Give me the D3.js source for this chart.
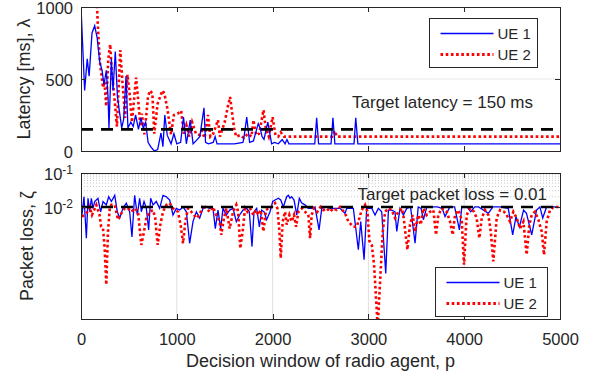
<!DOCTYPE html>
<html lang="en">
<head>
<meta charset="UTF-8">
<title>Latency and packet loss per UE</title>
<script src="https://cdn.jsdelivr.net/npm/d3@7"></script>
<style>
  body { margin: 0; background: #fff; }
  svg text { font-family: "Liberation Sans", Arial, sans-serif; fill: #262626; }
  .axis path, .axis line { stroke: #262626; shape-rendering: crispEdges; }
</style>
</head>
<body>
<svg id="chart" width="590" height="384"></svg>
<script>
// ---- data ----
const xTicks = [0, 1000, 2000, 3000, 4000, 5000];
const latTicks = [0, 500, 1000];
const plTicks = [0.01, 0.1];
const plMinor = [0.02, 0.03, 0.04, 0.05, 0.06, 0.07, 0.08, 0.09];
const targetLatency = 150;
const targetLoss = 0.01;

// latency, UE 1
const latX1 = [0, 38, 65, 85, 115, 143, 170, 195, 220, 240, 264, 282, 292, 317, 334, 358, 380, 400, 425, 445,
  470, 490, 520, 545, 570, 600, 625, 650, 675, 700, 727, 765, 800, 835, 855, 875, 900, 920, 940, 970,
  1000, 1040, 1070, 1100, 1140, 1170, 1200, 1240, 1284, 1300, 1330, 1380, 1400, 1420, 1520, 1600, 1690, 1700, 1730, 1760,
  1800, 1850, 1870, 1890, 1910, 1950, 1990, 2020, 2060, 2100, 2130, 2150, 2170, 2440, 2460, 2480, 2610, 2630, 2650, 2850,
  2868, 2890, 5000];
const latUE1 = [1000, 420, 640, 520, 820, 870, 780, 620, 560, 460, 560, 380, 160, 640, 420, 690, 380, 280, 160, 220,
  520, 160, 200, 170, 250, 150, 230, 160, 200, 60, 30, 0, 10, 125, 30, 250, 110, 80, 50, 120,
  50, 60, 235, 50, 215, 50, 70, 100, 300, 60, 50, 60, 100, 50, 50, 50, 60, 90, 235, 60,
  70, 190, 160, 100, 80, 200, 50, 60, 50, 80, 50, 80, 50, 50, 230, 50, 50, 230, 50, 50,
  230, 50, 50];

// latency, UE 2
const latX2 = [0, 160, 167, 185, 200, 230, 245, 263, 285, 305, 320, 345, 375, 410, 430, 450, 460, 485, 510, 532,
  575, 600, 620, 635, 662, 700, 720, 745, 765, 800, 850, 870, 900, 940, 970, 1010, 1045, 1075, 1100, 1130,
  1160, 1200, 1240, 1260, 1290, 1325, 1350, 1380, 1430, 1450, 1500, 1530, 1556, 1580, 1600, 1620, 1660, 1700, 1740, 1780,
  1800, 1830, 1860, 1905, 1930, 1960, 2000, 2030, 2060, 2085, 2120, 2620, 2650, 2670, 5000];
const latUE2 = [1300, 1300, 1000, 750, 600, 440, 480, 310, 640, 740, 560, 400, 170, 700, 500, 330, 230, 530, 380, 200,
  510, 330, 170, 260, 115, 380, 420, 400, 120, 330, 420, 400, 300, 115, 250, 260, 280, 120, 180, 100,
  200, 120, 110, 140, 90, 250, 100, 120, 215, 100, 200, 300, 375, 250, 150, 100, 110, 90, 120, 100,
  215, 110, 120, 285, 150, 100, 235, 110, 100, 130, 100, 100, 140, 100, 100];

// packet loss, UE 1
const plX1 = [10, 31, 56, 73, 91, 108, 125, 143, 177, 205, 230, 264, 289, 317, 352, 379, 404, 438, 473, 508,
  532, 560, 588, 612, 630, 658, 682, 706, 727, 752, 786, 821, 856, 891, 926, 960, 995, 1030, 1065, 1100,
  1134, 1169, 1204, 1239, 1274, 1308, 1343, 1378, 1402, 1430, 1458, 1482, 1517, 1552, 1587, 1621, 1656, 1691, 1730, 1757,
  1785, 1806, 1834, 1862, 1886, 1911, 1938, 1973, 2001, 2025, 2060, 2085, 2112, 2147, 2165, 2182, 2199, 2224, 2252, 2279,
  2304, 2339, 2373, 2408, 2443, 2485, 2513, 2547, 2600, 2652, 2704, 2756, 2774, 2843, 2895, 2920, 2955, 2982, 3035, 3069,
  3104, 3139, 3181, 3209, 3243, 3278, 3296, 3330, 3365, 3400, 3440, 3487, 3520, 3550, 3574, 3610, 3680, 3720, 3770, 3800,
  3850, 3900, 3950, 3975, 4030, 4068, 4110, 4150, 4252, 4300, 4370, 4460, 4506, 4541, 4576, 4620, 4650, 4705, 4755, 4790,
  4820, 4860, 4960];
const plUE1 = [5.8e-3, 2.0e-2, 1.2e-3, 1.8e-2, 7.2e-3, 1.8e-2, 9.1e-3, 1.45e-2, 1.8e-2, 7.2e-3, 1.45e-2, 1.15e-2, 2.0e-2, 1.45e-2, 2.2e-2, 7.2e-3, 4.7e-3, 9.1e-3, 1.3e-2, 7.2e-3,
  1.3e-3, 2.2e-2, 5.8e-3, 1.8e-2, 7.2e-3, 1.45e-2, 9.1e-3, 2.1e-3, 1.8e-2, 1.15e-2, 1.45e-2, 9.1e-3, 2.2e-2, 2.0e-2, 1.6e-2, 5.8e-3, 9.1e-3, 8.1e-3, 1.0e-2, 7.2e-3,
  8.5e-4, 3.7e-3, 7.2e-3, 4.7e-3, 9.1e-3, 1.0e-2, 9.1e-3, 9.1e-3, 2.3e-3, 8.1e-3, 2.3e-3, 9.1e-3, 5.8e-3, 8.1e-3, 9.1e-3, 3.7e-3, 5.8e-3, 8.1e-3, 9.1e-3, 7.2e-3,
  6.8e-4, 7.2e-3, 9.1e-3, 2.6e-3, 8.1e-3, 7.2e-3, 4.2e-3, 7.2e-3, 1.45e-2, 1.6e-2, 1.8e-2, 1.6e-2, 1.0e-2, 2.0e-2, 2.2e-2, 1.8e-2, 2.0e-2, 1.6e-2, 5.8e-3, 1.8e-2,
  1.3e-2, 1.15e-2, 9.1e-3, 9.1e-3, 1.0e-2, 2.1e-3, 9.1e-3, 1.0e-2, 9.1e-3, 9.1e-3, 9.1e-3, 6.5e-3, 9.1e-3, 9.1e-3, 5.5e-4, 3.7e-3, 2.8e-4, 9.1e-3, 9.1e-3, 5.8e-3,
  9.1e-3, 7.2e-3, 1.1e-4, 8.1e-3, 8.1e-3, 7.2e-3, 1.9e-3, 9.1e-3, 5.8e-3, 9.1e-3, 1.0e-2, 8.5e-4, 1.0e-2, 9.1e-3, 4.2e-3, 1.0e-2, 1.0e-2, 1.0e-2, 9.1e-3, 5.2e-3,
  1.0e-2, 1.0e-2, 2.1e-3, 1.0e-2, 1.0e-2, 7.2e-3, 1.0e-2, 1.0e-2, 6.5e-3, 1.0e-2, 1.0e-2, 9.1e-3, 1.5e-3, 5.2e-3, 2.6e-3, 8.1e-3, 6.5e-3, 1.5e-3, 8.1e-3, 1.0e-2,
  4.7e-3, 1.0e-2, 1.0e-2];

// packet loss, UE 2
const plX2 = [10, 38, 66, 91, 115, 160, 194, 210, 230, 247, 264, 282, 300, 317, 352, 386, 421, 456, 490, 525,
  560, 595, 630, 658, 682, 717, 752, 775, 800, 828, 856, 891, 926, 960, 1012, 1040, 1065, 1089, 1117, 1152,
  1204, 1239, 1274, 1308, 1343, 1378, 1412, 1447, 1464, 1492, 1517, 1552, 1587, 1621, 1640, 1663, 1691, 1712, 1737, 1764,
  1799, 1827, 1851, 1876, 1904, 1931, 1956, 1991, 2025, 2050, 2071, 2085, 2105, 2130, 2147, 2175, 2199, 2224, 2245, 2269,
  2304, 2339, 2373, 2391, 2408, 2433, 2467, 2500, 2530, 2565, 2600, 2634, 2669, 2704, 2756, 2791, 2843, 2878, 2906, 2930,
  2965, 2990, 3010, 3035, 3059, 3080, 3097, 3122, 3150, 3174, 3209, 3243, 3278, 3313, 3348, 3365, 3407, 3434, 3462, 3487,
  3521, 3546, 3574, 3608, 3643, 3678, 3706, 3730, 3765, 3817, 3852, 3880, 3904, 3939, 3974, 3998, 4026, 4061, 4103, 4130,
  4158, 4183, 4217, 4252, 4277, 4304, 4339, 4374, 4416, 4444, 4478, 4513, 4548, 4583, 4618, 4652, 4680, 4705, 4739, 4774,
  4809, 4833, 4861, 4896, 4931, 4966, 5000];
const plUE2 = [5.2e-3, 5.8e-3, 7.2e-3, 1.0e-2, 5.8e-3, 1.15e-2, 5.8e-3, 2.6e-3, 2.3e-3, 6.0e-4, 5.1e-5, 1.9e-3, 9.1e-3, 1.15e-2, 1.15e-2, 4.2e-3, 6.5e-3, 9.1e-3, 9.1e-3, 7.2e-3,
  9.1e-3, 7.2e-3, 7.6e-4, 1.9e-3, 4.7e-3, 7.2e-3, 8.1e-3, 4.7e-3, 7.6e-4, 3.0e-3, 7.2e-3, 1.15e-2, 1.3e-2, 9.1e-3, 7.2e-3, 3.0e-3, 8.5e-4, 3.7e-3, 9.1e-3, 7.2e-3,
  4.7e-3, 5.8e-3, 1.15e-2, 9.1e-3, 7.2e-3, 1.0e-2, 5.8e-3, 3.7e-3, 1.5e-3, 4.7e-3, 9.1e-3, 2.3e-3, 7.2e-3, 1.15e-2, 7.2e-3, 6.0e-4, 2.3e-3, 9.1e-3, 7.2e-3, 9.1e-3,
  5.8e-3, 8.1e-3, 5.8e-3, 8.1e-3, 1.9e-3, 8.1e-3, 9.1e-3, 1.0e-2, 1.3e-2, 9.1e-3, 1.9e-3, 3.1e-4, 3.7e-3, 7.2e-3, 3.0e-3, 5.8e-3, 3.7e-3, 5.8e-3, 2.6e-3, 7.2e-3,
  9.1e-3, 7.2e-3, 5.8e-3, 1.2e-3, 5.8e-3, 9.1e-3, 7.2e-3, 1.0e-2, 8.1e-3, 9.1e-3, 7.2e-3, 9.1e-3, 8.1e-3, 1.0e-2, 6.5e-3, 3.7e-3, 2.6e-3, 2.6e-3, 4.7e-3, 8.1e-3,
  1.15e-2, 7.2e-3, 1.0e-3, 7.6e-4, 2.0e-4, 2.0e-5, 3.0e-6, 6.3e-5, 1.9e-3, 7.2e-3, 9.1e-3, 8.1e-3, 4.7e-3, 7.2e-3, 9.1e-3, 5.8e-3, 5.5e-4, 3.0e-3, 5.8e-3, 1.9e-3,
  5.8e-3, 3.0e-3, 9.1e-3, 5.8e-3, 7.2e-3, 8.1e-3, 1.5e-3, 5.8e-3, 9.1e-3, 7.2e-3, 3.7e-3, 1.5e-3, 5.8e-3, 8.1e-3, 4.2e-3, 2.0e-4, 5.8e-3, 9.1e-3, 7.2e-3, 4.7e-3,
  1.2e-3, 4.7e-3, 8.1e-3, 5.8e-3, 1.9e-3, 2.5e-4, 4.7e-3, 8.1e-3, 7.2e-3, 5.8e-3, 3.7e-3, 7.2e-3, 4.7e-3, 2.3e-3, 3.7e-3, 3.9e-4, 3.0e-3, 5.8e-3, 7.2e-3, 4.2e-3,
  1.9e-3, 3.9e-4, 3.7e-3, 8.1e-3, 1.0e-2, 1.0e-2, 1.0e-2];

const series = [
  { name: "UE 1", color: "#0000ff", width: 1.3, dash: null },
  { name: "UE 2", color: "#ff0000", width: 2.6, dash: "2.6,2.6" }
];

// ---- layout ----
const left = 81, right = 560;
const top1 = 7, bot1 = 151;
const top2 = 173, bot2 = 319;

const svg = d3.select("#chart");

const x = d3.scaleLinear().domain([0, 5000]).range([left, right]);
const yLat = d3.scaleLinear().domain([0, 1000]).range([bot1, top1]);
const yPL = d3.scaleLog().domain([5e-6, 0.1]).range([bot2, top2]);

const defs = svg.append("defs");
defs.append("clipPath").attr("id", "clip1")
  .append("rect").attr("x", left).attr("y", top1).attr("width", right - left).attr("height", bot1 - top1);
defs.append("clipPath").attr("id", "clip2")
  .append("rect").attr("x", left).attr("y", top2).attr("width", right - left).attr("height", bot2 - top2);

// ---- grids ----
svg.append("g").selectAll("line")
  .data(latTicks.slice(1, -1)).join("line")
  .attr("x1", left).attr("x2", right)
  .attr("y1", d => yLat(d)).attr("y2", d => yLat(d))
  .attr("stroke", "#e6e6e6").attr("stroke-width", 1);

svg.append("g").selectAll("line")
  .data(xTicks.slice(1, -1)).join("line")
  .attr("x1", d => x(d)).attr("x2", d => x(d))
  .attr("y1", top2).attr("y2", bot2)
  .attr("stroke", "#e0e0e0").attr("stroke-width", 1);

svg.append("g").selectAll("line")
  .data(plMinor).join("line")
  .attr("x1", left).attr("x2", right)
  .attr("y1", d => yPL(d)).attr("y2", d => yPL(d))
  .attr("stroke", "#bdbdbd").attr("stroke-width", 0.8)
  .attr("stroke-dasharray", "1,2");

// ---- data lines ----
const line1 = d3.line().x(d => x(d[0])).y(d => yLat(d[1]));
const line2 = d3.line().x(d => x(d[0])).y(d => yPL(d[1]));

const latData = [d3.zip(latX1, latUE1), d3.zip(latX2, latUE2)];
const plData = [d3.zip(plX1, plUE1), d3.zip(plX2, plUE2)];

const g1 = svg.append("g").attr("clip-path", "url(#clip1)");
const g2 = svg.append("g").attr("clip-path", "url(#clip2)");

[1, 0].forEach(i => {
  const s = series[i];
  g1.append("path").datum(latData[i])
    .attr("d", line1).attr("fill", "none")
    .attr("stroke", s.color).attr("stroke-width", s.width)
    .attr("stroke-dasharray", s.dash);
});
series.forEach((s, i) => {
  g2.append("path").datum(plData[i])
    .attr("d", line2).attr("fill", "none")
    .attr("stroke", s.color).attr("stroke-width", s.width)
    .attr("stroke-dasharray", s.dash);
});

// target lines
g1.append("line")
  .attr("x1", left).attr("x2", right)
  .attr("y1", yLat(targetLatency)).attr("y2", yLat(targetLatency))
  .attr("stroke", "#000").attr("stroke-width", 2.6).attr("stroke-dasharray", "12,8");
g2.append("line")
  .attr("x1", left).attr("x2", right)
  .attr("y1", yPL(targetLoss)).attr("y2", yPL(targetLoss))
  .attr("stroke", "#000").attr("stroke-width", 2.6).attr("stroke-dasharray", "12,8");

// ---- axes ----
function frame(yScale, yTop, yBot, yVals, yFmt, showX) {
  svg.append("g").attr("class", "axis")
    .attr("transform", `translate(0,${yBot})`)
    .call(d3.axisBottom(x).tickValues(xTicks).tickSize(-5).tickSizeOuter(0).tickPadding(10)
      .tickFormat(showX ? d3.format("d") : ""))
    .call(g => g.selectAll("text").attr("font-size", 16.5).attr("dy", "0.95em"));
  svg.append("g").attr("class", "axis")
    .attr("transform", `translate(0,${yTop})`)
    .call(d3.axisTop(x).tickValues(xTicks).tickSize(-5).tickSizeOuter(0).tickFormat(""));
  const ly = svg.append("g").attr("class", "axis")
    .attr("transform", `translate(${left},0)`)
    .call(d3.axisLeft(yScale).tickValues(yVals).tickSize(-5).tickSizeOuter(0).tickPadding(8).tickFormat(""));
  ly.selectAll(".tick").append("text")
    .attr("x", -8).attr("dy", "0.42em")
    .attr("text-anchor", "end").attr("font-size", 16.5)
    .each(function (d) { yFmt(d3.select(this), d); });
  svg.append("g").attr("class", "axis")
    .attr("transform", `translate(${right},0)`)
    .call(d3.axisRight(yScale).tickValues(yVals).tickSize(-5).tickSizeOuter(0).tickFormat(""));
}

frame(yLat, top1, bot1, latTicks, (t, d) => t.text(d), false);
frame(yPL, top2, bot2, plTicks, (t, d) => {
  t.text("10");
  t.append("tspan").attr("dy", "-0.5em").attr("font-size", 12).text(Math.round(Math.log10(d)));
}, true);

// ---- axis labels ----
svg.append("text")
  .attr("transform", `translate(30,${(top1 + bot1) / 2}) rotate(-90)`)
  .attr("text-anchor", "middle").attr("font-size", 18)
  .text("Latency [ms], λ");
svg.append("text")
  .attr("transform", `translate(33,${(top2 + bot2) / 2}) rotate(-90)`)
  .attr("text-anchor", "middle").attr("font-size", 18)
  .text("Packet loss, ζ");
svg.append("text")
  .attr("x", (left + right) / 2).attr("y", 367)
  .attr("text-anchor", "middle").attr("font-size", 18)
  .text("Decision window of radio agent, p");

// ---- annotations ----
svg.append("text")
  .attr("x", 533).attr("y", 108)
  .attr("text-anchor", "end").attr("font-size", 17)
  .text(`Target latency = ${targetLatency} ms`);
svg.append("text")
  .attr("x", 547).attr("y", 200)
  .attr("text-anchor", "end").attr("font-size", 17)
  .text(`Target packet loss = ${targetLoss}`);

// ---- legends ----
function legend(x0, y0, w, h) {
  const g = svg.append("g").attr("transform", `translate(${x0},${y0})`);
  g.append("rect").attr("width", w).attr("height", h)
    .attr("fill", "#fff").attr("stroke", "#262626").attr("stroke-width", 1);
  series.forEach((s, i) => {
    const yy = 15 + i * 21;
    g.append("line").attr("x1", 11).attr("x2", 64).attr("y1", yy).attr("y2", yy)
      .attr("stroke", s.color).attr("stroke-width", s.width + 0.2).attr("stroke-dasharray", s.dash);
    g.append("text").attr("x", 68).attr("y", yy).attr("dy", "0.35em")
      .attr("font-size", 15).text(s.name);
  });
}
legend(429.5, 18.5, 108, 49);
legend(435.5, 267.5, 112, 49);
</script>
</body>
</html>
